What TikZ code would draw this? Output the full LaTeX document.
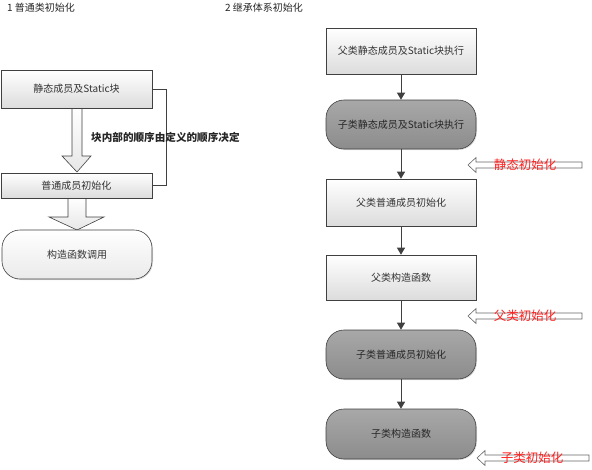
\documentclass[tikz,border=0pt]{standalone}
\usepackage{fontspec}
\setmainfont{Noto Sans CJK SC}
\usetikzlibrary{arrows.meta,shadows}
\definecolor{edge}{HTML}{404040}
\definecolor{lightbot}{HTML}{DCDCDC}
\definecolor{darktop}{HTML}{A8A8A8}
\definecolor{darkbot}{HTML}{8C8C8C}
\definecolor{redtxt}{HTML}{FF2020}
\tikzset{
  x=1pt, y=1pt,
  boxfont/.style={font=\fontsize{10}{12}\selectfont},
  lightbox/.style={draw=edge, line width=0.6pt, top color=white, bottom color=lightbot,
    minimum width=150pt, inner sep=0pt, boxfont, text=black!80,
    drop shadow={shadow xshift=1pt, shadow yshift=-1pt, opacity=0.25}},
  darkround/.style={draw=edge, line width=0.6pt, top color=darktop, bottom color=darkbot,
    rounded corners=18pt, minimum width=150pt, inner sep=0pt, boxfont, text=black!85,
    drop shadow={shadow xshift=1pt, shadow yshift=-1pt, opacity=0.25}},
  whiteround/.style={draw=edge, line width=0.6pt, top color=white, bottom color=lightbot!60,
    rounded corners=18pt, minimum width=150pt, inner sep=0pt, boxfont, text=black!80,
    drop shadow={shadow xshift=1pt, shadow yshift=-1pt, opacity=0.25}},
  flow/.style={draw=edge, line width=0.9pt, -{Triangle[length=7pt,width=8pt]}},
  hollow/.style={draw=edge, line width=0.6pt, top color=white, bottom color=lightbot!70},
  sidearrow/.style={draw=edge!80, line width=0.6pt, fill=white},
  redlabel/.style={text=redtxt, font=\fontsize{12.5}{14}\selectfont, inner sep=0pt},
  title/.style={font=\fontsize{10}{12}\selectfont, text=black!85, inner sep=0pt, anchor=west},
}
\begin{document}
\begin{tikzpicture}
\useasboundingbox (0,0) rectangle (592,-469);
% titles
\node[title] (t1) at (7,-8) {1 普通类初始化};
\node[title] (t2) at (225,-8) {2 继承体系初始化};

% ---- left column ----
% hollow block arrows (behind)
\path[hollow] (72,-108) -- (82,-108) -- (82,-156) -- (91,-156) -- (77,-172) -- (62,-156) -- (72,-156) -- cycle;
\path[hollow] (68,-198) -- (86,-198) -- (86,-217) -- (104,-217) -- (77,-230) -- (49,-217) -- (68,-217) -- cycle;

\node[lightbox, minimum height=38pt, minimum width=151pt] (b1) at (76.5,-89) {静态成员及Static块};
\node[lightbox, minimum height=25pt, minimum width=151pt] (b2) at (76.5,-185.5) {普通成员初始化};
\node[whiteround, minimum height=49pt] (b3) at (77,-254.5) {构造函数调用};

\draw[edge, line width=0.6pt] (b1.east) -- ++(14,0) |- (b2.east);
\node[anchor=west, inner sep=0pt, font=\fontsize{10.6}{12}\selectfont\bfseries, text=black!85] (lbl) at (91,-137) {块内部的顺序由定义的顺序决定};

% ---- right column ----
\node[lightbox, minimum height=46pt] (A) at (401,-51) {父类静态成员及Static块执行};
\node[darkround, minimum height=49pt] (B) at (401,-124.5) {子类静态成员及Static块执行};
\node[lightbox, minimum height=47pt] (C) at (401,-202.5) {父类普通成员初始化};
\node[lightbox, minimum height=45pt] (D) at (401,-277.5) {父类构造函数};
\node[darkround, minimum height=49pt] (E) at (401,-354.5) {子类普通成员初始化};
\node[darkround, minimum height=50pt] (F) at (401,-434) {子类构造函数};

\draw[flow] (A) -- (B);
\draw[flow] (B) -- (C);
\draw[flow] (C) -- (D);
\draw[flow] (D) -- (E);
\draw[flow] (E) -- (F);

% side hollow arrows with red labels
\path[sidearrow] (582,-162) -- (476,-162) -- (476,-157.5) -- (468,-165) -- (476,-172.5) -- (476,-168) -- (582,-168) -- cycle;
\node[redlabel] (s1) at (525,-165) {静态初始化};
\path[sidearrow] (582,-313) -- (476,-313) -- (476,-308.5) -- (468,-316) -- (476,-323.5) -- (476,-319) -- (582,-319) -- cycle;
\node[redlabel] (s2) at (525,-316) {父类初始化};
\path[sidearrow] (589,-455) -- (485,-455) -- (485,-450.5) -- (477,-458) -- (485,-465.5) -- (485,-461) -- (589,-461) -- cycle;
\node[redlabel] (s3) at (532,-458) {子类初始化};
\end{tikzpicture}
\end{document}
